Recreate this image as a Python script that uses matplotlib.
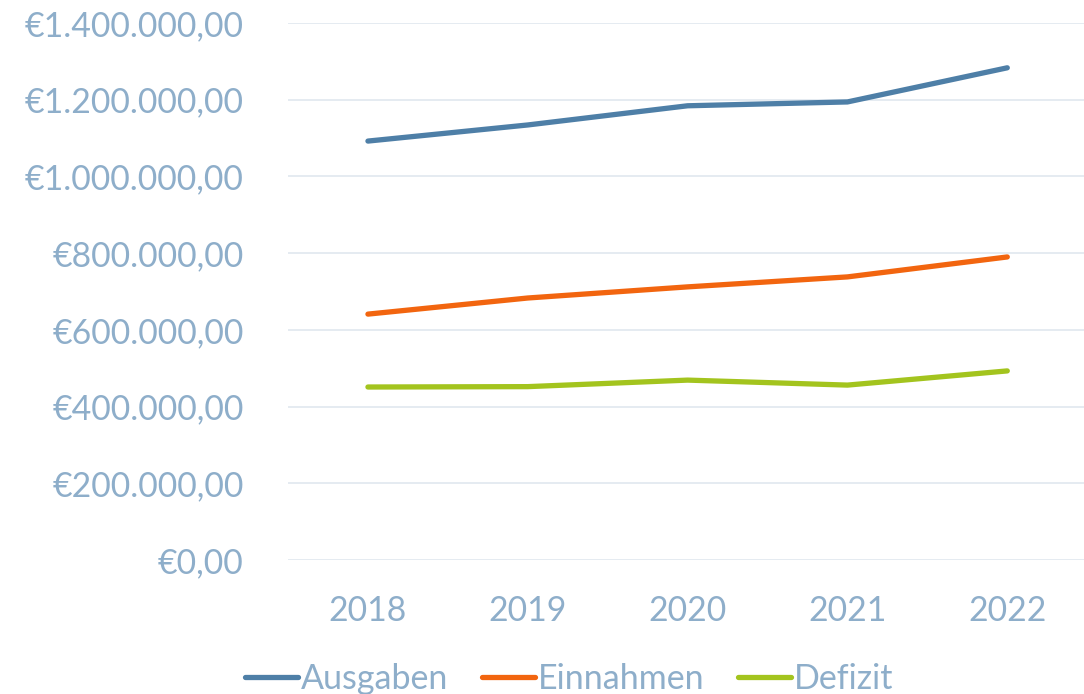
import matplotlib.pyplot as plt
from matplotlib.ticker import FuncFormatter

# Daten
jahre = ["2018", "2019", "2020", "2021", "2022"]
ausgaben = [1092000, 1134000, 1184000, 1194000, 1283000]
einnahmen = [641000, 683000, 712000, 738000, 790000]
defizit = [451000, 452000, 469000, 456000, 493000]

textfarbe = "#8EAECA"
plt.rcParams['font.family'] = ['Lato', 'DejaVu Sans']

def euro(v, pos):
    s = f"{v:,.2f}"
    s = s.replace(",", "X").replace(".", ",").replace("X", ".")
    return "€" + s

fig = plt.figure(figsize=(10.84, 6.94), dpi=100)
ax = fig.add_axes([0.2657, 0.193, 0.7343, 0.774])

x = range(len(jahre))
ax.plot(x, ausgaben, color="#4E7FA7", lw=3.8, solid_capstyle="round", label="Ausgaben")
ax.plot(x, einnahmen, color="#F2650F", lw=3.8, solid_capstyle="round", label="Einnahmen")
ax.plot(x, defizit, color="#A3C41E", lw=3.8, solid_capstyle="round", label="Defizit")

ax.set_xlim(-0.5, 4.48)
ax.set_ylim(0, 1400000)
ax.set_yticks(range(0, 1400001, 200000))
ax.yaxis.set_major_formatter(FuncFormatter(euro))
ax.set_xticks(list(x))
ax.set_xticklabels(jahre)
ax.grid(axis="y", color="#E3E9F0", lw=1.3)
ax.set_axisbelow(True)
for s in ax.spines.values():
    s.set_visible(False)
ax.tick_params(axis="both", length=0, colors=textfarbe, labelsize=24.3)
ax.tick_params(axis="y", pad=32)
ax.tick_params(axis="x", pad=25)

fig.legend(loc="lower center", bbox_to_anchor=(0.525, -0.045), ncol=3, frameon=False,
           fontsize=24.5, labelcolor=textfarbe, handlelength=1.55, handletextpad=0.08,
           columnspacing=1.0)

fig.savefig("out.png", dpi=100)
